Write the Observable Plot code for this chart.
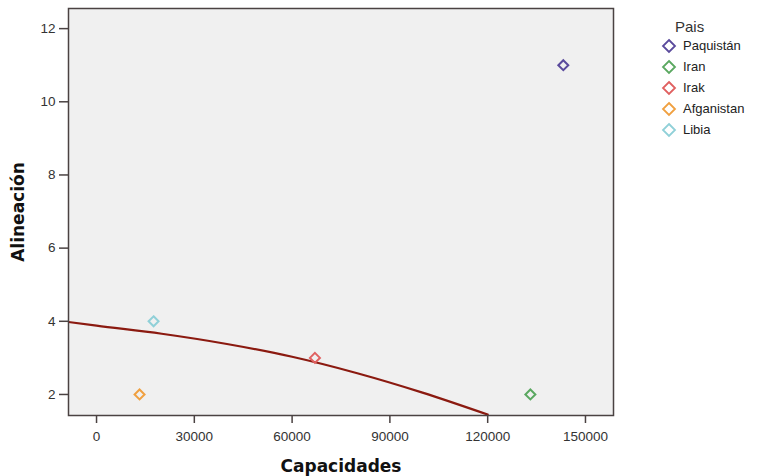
<!DOCTYPE html>
<html>
<head>
<meta charset="utf-8">
<script src="https://cdn.jsdelivr.net/npm/d3@7"></script>
<script src="https://cdn.jsdelivr.net/npm/@observablehq/plot@0.6"></script>
<style>
  body { margin: 0; background: #fff; font-family: "Liberation Sans", Arial, sans-serif; }
  #wrap { position: relative; width: 758px; height: 476px; }
  #chart svg { display: block; }
  g[aria-label="x-axis label"] text, g[aria-label="y-axis label"] text {
    font-weight: bold; font-size: 17px; fill: #111; font-family: "DejaVu Sans", "Liberation Sans", sans-serif;
  }
  #legend { position: absolute; left: 660px; top: 18px; font-size: 13px; color: #222; }
  #legend .title { position: absolute; left: 15px; top: 0; font-size: 15px; color: #333; }
  #legend .row { position: absolute; left: 0; height: 16px; line-height: 16px; white-space: nowrap; }
  #legend svg { position: absolute; left: 0; top: 0; }
  #legend span { position: absolute; left: 23px; top: 0; }
</style>
</head>
<body>
<div id="wrap">
  <div id="chart"></div>
  <div id="legend"></div>
</div>
<script>
// Data
const paises = ["Paquistán", "Iran", "Irak", "Afganistan", "Libia"];
const capacidades = [143200, 133100, 67000, 13200, 17500];
const alineacion = [11, 2, 3, 2, 4];
const colores = ["#5a4a9c", "#5aa860", "#e06060", "#f0a040", "#90d0d8"];

// fitted curve
const curvaX = [-8600, 0, 20000, 40000, 60000, 80000, 100000, 120000];
const curvaY = [3.98, 3.88, 3.66, 3.38, 3.03, 2.58, 2.05, 1.45];

const xTicks = [0, 30000, 60000, 90000, 120000, 150000];
const yTicks = [2, 4, 6, 8, 10, 12];

const points = paises.map((p, i) => ({pais: p, x: capacidades[i], y: alineacion[i]}));
const curva = curvaX.map((x, i) => ({x, y: curvaY[i]}));

const chart = Plot.plot({
  width: 758,
  height: 476,
  marginLeft: 68,
  marginRight: 145,
  marginTop: 8,
  marginBottom: 61,
  style: {fontFamily: '"Liberation Sans", Arial, sans-serif', fontSize: "13.5px", color: "#333", background: "#fff"},
  x: {domain: [-8600, 158600]},
  y: {domain: [1.425, 12.55]},
  color: {domain: paises, range: colores},
  marks: [
    Plot.frame({fill: "#f0f0f0", stroke: null}),
    Plot.line(curva, {x: "x", y: "y", stroke: "#8b1a10", strokeWidth: 2.2, curve: "monotone-x", clip: true}),
    Plot.dot(points, {x: "x", y: "y", stroke: "pais", symbol: "diamond2", r: 4.5, strokeWidth: 2}),
    Plot.frame({stroke: "#4a4242", strokeWidth: 1.5}),
    Plot.axisX({ticks: xTicks, tickFormat: d3.format("d"), tickSize: 8, tickPadding: 8, stroke: "#4a4242", strokeWidth: 1.5,
      label: "Capacidades", labelAnchor: "center", labelArrow: "none", labelOffset: 56}),
    Plot.axisY({ticks: yTicks, tickSize: 9, tickPadding: 4, stroke: "#4a4242", strokeWidth: 1.5,
      label: "Alineación", labelAnchor: "center", labelArrow: "none", labelOffset: 57})
  ]
});
document.getElementById("chart").appendChild(chart);

// legend
const leg = document.getElementById("legend");
const t = document.createElement("div");
t.className = "title"; t.textContent = "Pais";
leg.appendChild(t);
paises.forEach((p, i) => {
  const row = document.createElement("div");
  row.className = "row";
  row.style.top = (20 + i * 21) + "px";
  row.innerHTML = `<svg width="18" height="16"><path d="M9,2 L15,8 L9,14 L3,8 Z" fill="none" stroke="${colores[i]}" stroke-width="1.8"/></svg><span>${p}</span>`;
  leg.appendChild(row);
});
</script>
</body>
</html>
